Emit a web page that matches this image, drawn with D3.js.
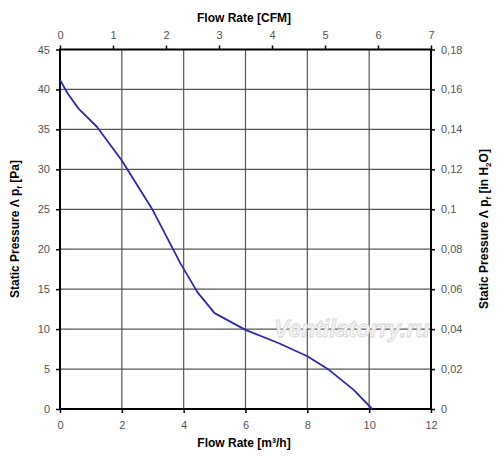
<!DOCTYPE html>
<html>
<head>
<meta charset="utf-8">
<script src="https://cdn.jsdelivr.net/npm/d3@7"></script>
<style>
  body { margin: 0; background: #fff; }
  text { font-family: "Liberation Sans", Arial, sans-serif; }
</style>
</head>
<body>
<div class="container"></div>
<script>
// flow (m3/h) vs static pressure (Pa)
let flow = [0, 0.25, 0.6, 1.2, 2.0, 3.0, 3.9, 4.45, 5.0, 6.0, 7.1, 8.0, 8.7, 9.5, 10.1]
let pressure = [41.2, 39.5, 37.6, 35.3, 31.1, 24.9, 18.2, 14.6, 12.0, 9.9, 8.2, 6.6, 4.9, 2.4, 0]

let m3hTicks = [0, 2, 4, 6, 8, 10, 12]
let cfmTicks = [0, 1, 2, 3, 4, 5, 6, 7]
let paTicks = [0, 5, 10, 15, 20, 25, 30, 35, 40, 45]
let inchTicks = [0, 0.02, 0.04, 0.06, 0.08, 0.1, 0.12, 0.14, 0.16, 0.18]

let plotLeft = 60, plotRight = 431, plotTop = 49.5, plotBottom = 409

let svg = d3.select('.container')
    .append('svg')
    .attr('width', 500)
    .attr('height', 461)

let x = d3.scaleLinear().domain([0, 12]).range([plotLeft, plotRight])
let xTop = d3.scaleLinear().domain([0, 7]).range([plotLeft, plotRight])
let y = d3.scaleLinear().domain([0, 45]).range([plotBottom, plotTop])
let yRight = d3.scaleLinear().domain([0, 0.18]).range([plotBottom, plotTop])

// grid
svg.append('g').selectAll('line')
    .data(m3hTicks.slice(1, -1))
    .enter().append('line')
    .attr('x1', d => x(d)).attr('x2', d => x(d))
    .attr('y1', plotTop).attr('y2', plotBottom)
    .attr('stroke', '#555').attr('stroke-width', 1.2)

svg.append('g').selectAll('line')
    .data(paTicks.slice(1, -1))
    .enter().append('line')
    .attr('x1', plotLeft).attr('x2', plotRight)
    .attr('y1', d => y(d)).attr('y2', d => y(d))
    .attr('stroke', '#555').attr('stroke-width', 1.2)

// watermark
svg.append('text')
    .attr('x', 274).attr('y', 337)
    .attr('font-size', 23)
    .attr('font-style', 'italic')
    .attr('font-weight', 'bold')
    .attr('fill', '#f4f4f4')
    .attr('stroke', '#d6d6d6')
    .attr('stroke-width', 0.8)
    .text('Ventilatorry.ru')

function styleAxis(g) {
    g.select('.domain').remove()
    g.selectAll('.tick line').attr('stroke', '#000').attr('stroke-width', 1.5)
    g.selectAll('.tick text')
        .attr('fill', '#555')
        .style('font-size', '11px')
        .style('font-family', '"Liberation Sans", Arial, sans-serif')
}

svg.append('g')
    .attr('transform', `translate(0,${plotBottom})`)
    .call(d3.axisBottom(x).tickValues(m3hTicks).tickSize(4).tickPadding(8))
    .call(styleAxis)

svg.append('g')
    .attr('transform', `translate(0,${plotTop})`)
    .call(d3.axisTop(xTop).tickValues(cfmTicks).tickSize(4).tickPadding(7).tickFormat(d3.format('d')))
    .call(styleAxis)

svg.append('g')
    .attr('transform', `translate(${plotLeft},0)`)
    .call(d3.axisLeft(y).tickValues(paTicks).tickSize(4).tickPadding(6))
    .call(styleAxis)

svg.append('g')
    .attr('transform', `translate(${plotRight},0)`)
    .call(d3.axisRight(yRight).tickValues(inchTicks).tickSize(4).tickPadding(6)
        .tickFormat(d => String(+d.toFixed(2)).replace('.', ',')))
    .call(styleAxis)

// frame
svg.append('rect')
    .attr('x', plotLeft).attr('y', plotTop)
    .attr('width', plotRight - plotLeft).attr('height', plotBottom - plotTop)
    .attr('fill', 'none')
    .attr('stroke', '#000')
    .attr('stroke-width', 2)

// curve
let line = d3.line()
    .x((d, i) => x(flow[i]))
    .y((d, i) => y(pressure[i]))

svg.append('path')
    .attr('d', line(flow))
    .attr('fill', 'none')
    .attr('stroke', '#2b2ba6')
    .attr('stroke-width', 1.8)
    .attr('stroke-linejoin', 'round')

// titles
svg.append('text')
    .attr('x', 244).attr('y', 22)
    .attr('text-anchor', 'middle')
    .attr('font-size', 12).attr('font-weight', 'bold')
    .text('Flow Rate [CFM]')

svg.append('text')
    .attr('x', 244).attr('y', 447)
    .attr('text-anchor', 'middle')
    .attr('font-size', 12).attr('font-weight', 'bold')
    .text('Flow Rate [m³/h]')

let leftTitle = svg.append('text')
    .attr('transform', 'translate(19,229) rotate(-90)')
    .attr('text-anchor', 'middle')
    .attr('font-size', 12).attr('font-weight', 'bold')
leftTitle.append('tspan').text('Static Pressure Λ p')
leftTitle.append('tspan').attr('font-size', 8).attr('dy', 3).text('f')
leftTitle.append('tspan').attr('dy', -3).text(' [Pa]')

let rightTitle = svg.append('text')
    .attr('transform', 'translate(488,229) rotate(-90)')
    .attr('text-anchor', 'middle')
    .attr('font-size', 12).attr('font-weight', 'bold')
rightTitle.append('tspan').text('Static Pressure Λ p')
rightTitle.append('tspan').attr('font-size', 8).attr('dy', 3).text('f')
rightTitle.append('tspan').attr('dy', -3).text(' [in H')
rightTitle.append('tspan').attr('font-size', 8).attr('dy', 3).text('2')
rightTitle.append('tspan').attr('dy', -3).text('O]')
</script>
</body>
</html>
